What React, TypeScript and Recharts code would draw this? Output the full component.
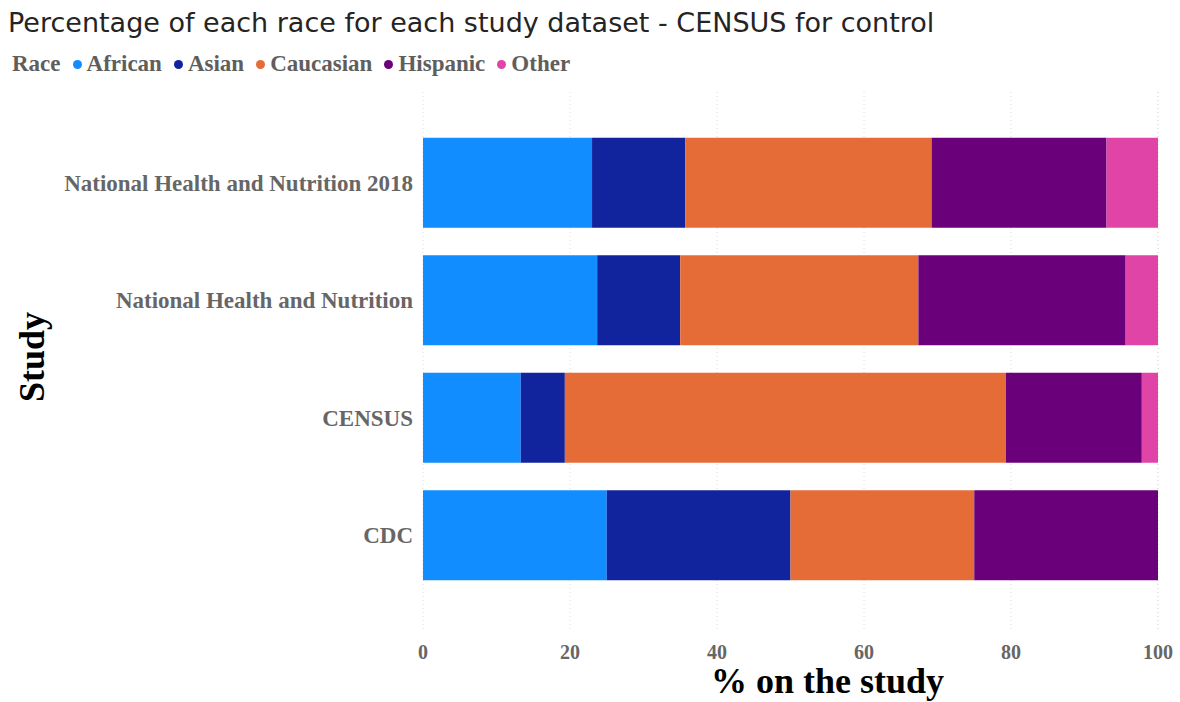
import React from 'react';
import { BarChart, Bar, XAxis, YAxis, CartesianGrid } from 'recharts';

const studies = ['National Health and Nutrition 2018', 'National Health and Nutrition', 'CENSUS', 'CDC'];
const african = [23.0, 23.7, 13.3, 25];
const asian = [12.7, 11.3, 6.0, 25];
const caucasian = [33.5, 32.4, 60.0, 25];
const hispanic = [23.8, 28.2, 18.5, 25];
const other = [7.0, 4.4, 2.2, 0];
const xTicks = [0, 20, 40, 60, 80, 100];

const races = [
  { key: 'African', color: '#118DFF', values: african },
  { key: 'Asian', color: '#12239E', values: asian },
  { key: 'Caucasian', color: '#E66C37', values: caucasian },
  { key: 'Hispanic', color: '#6B007B', values: hispanic },
  { key: 'Other', color: '#E044A7', values: other },
];

const data = studies.map((s, i) => {
  const row: Record<string, any> = { study: s };
  races.forEach((r) => {
    row[r.key] = r.values[i];
  });
  return row;
});

const serif = "'Liberation Serif', 'Times New Roman', serif";

export default function App() {
  return (
    <div style={{ position: 'absolute', left: 0, top: 0, width: 1180, height: 702, background: '#fff', overflow: 'hidden' }}>
      <div
        style={{
          position: 'absolute',
          left: 8,
          top: 7,
          fontFamily: "'DejaVu Sans', sans-serif",
          fontSize: 27,
          color: '#252423',
          whiteSpace: 'nowrap',
        }}
      >
        Percentage of each race for each study dataset - CENSUS for control
      </div>
      <div
        style={{
          position: 'absolute',
          left: 12,
          top: 51,
          display: 'flex',
          alignItems: 'center',
          fontFamily: serif,
          fontWeight: 'bold',
          fontSize: 23,
          color: '#605E5C',
          whiteSpace: 'nowrap',
        }}
      >
        <span>Race</span>
        {races.map((r) => (
          <span key={r.key} style={{ display: 'flex', alignItems: 'center' }}>
            <span
              style={{
                display: 'inline-block',
                width: 9,
                height: 9,
                borderRadius: '50%',
                background: r.color,
                marginLeft: 12,
                marginRight: 5,
              }}
            />
            <span>{r.key}</span>
          </span>
        ))}
      </div>
      <BarChart
        width={1180}
        height={702}
        data={data}
        layout="vertical"
        margin={{ top: 92, right: 22, bottom: 0, left: 0 }}
        barCategoryGap="11.7%"
      >
        <CartesianGrid horizontal={false} vertical={true} stroke="#dcdcdc" strokeDasharray="1 3" />
        <XAxis
          type="number"
          domain={[0, 100]}
          ticks={xTicks}
          axisLine={false}
          tickLine={false}
          tickSize={6}
          tickMargin={7}
          height={70}
          tick={{ fontFamily: serif, fontWeight: 'bold', fontSize: 20, fill: '#666666' }}
          label={{
            content: (props: any) => {
              const vb = props.viewBox;
              return (
                <text
                  x={vb.x + vb.width / 2 + 37}
                  y={vb.y + vb.height - 9}
                  textAnchor="middle"
                  fontFamily={serif}
                  fontWeight="bold"
                  fontSize={36}
                  fill="#000"
                >
                  % on the study
                </text>
              );
            },
          }}
        />
        <YAxis
          type="category"
          dataKey="study"
          width={423}
          axisLine={false}
          tickLine={false}
          tickSize={6}
          tickMargin={4}
          padding={{ top: 32, bottom: 38 }}
          tick={{ fontFamily: serif, fontWeight: 'bold', fontSize: 23, fill: '#666666' }}
          label={{
            content: (props: any) => {
              const vb = props.viewBox;
              const cy = vb.y + vb.height / 2 - 5;
              return (
                <text
                  x={44}
                  y={cy}
                  transform={`rotate(-90 44 ${cy})`}
                  textAnchor="middle"
                  fontFamily={serif}
                  fontWeight="bold"
                  fontSize={36}
                  fill="#000"
                >
                  Study
                </text>
              );
            },
          }}
        />
        {races.map((r) => (
          <Bar key={r.key} dataKey={r.key} stackId="a" fill={r.color} isAnimationActive={false} />
        ))}
      </BarChart>
    </div>
  );
}
